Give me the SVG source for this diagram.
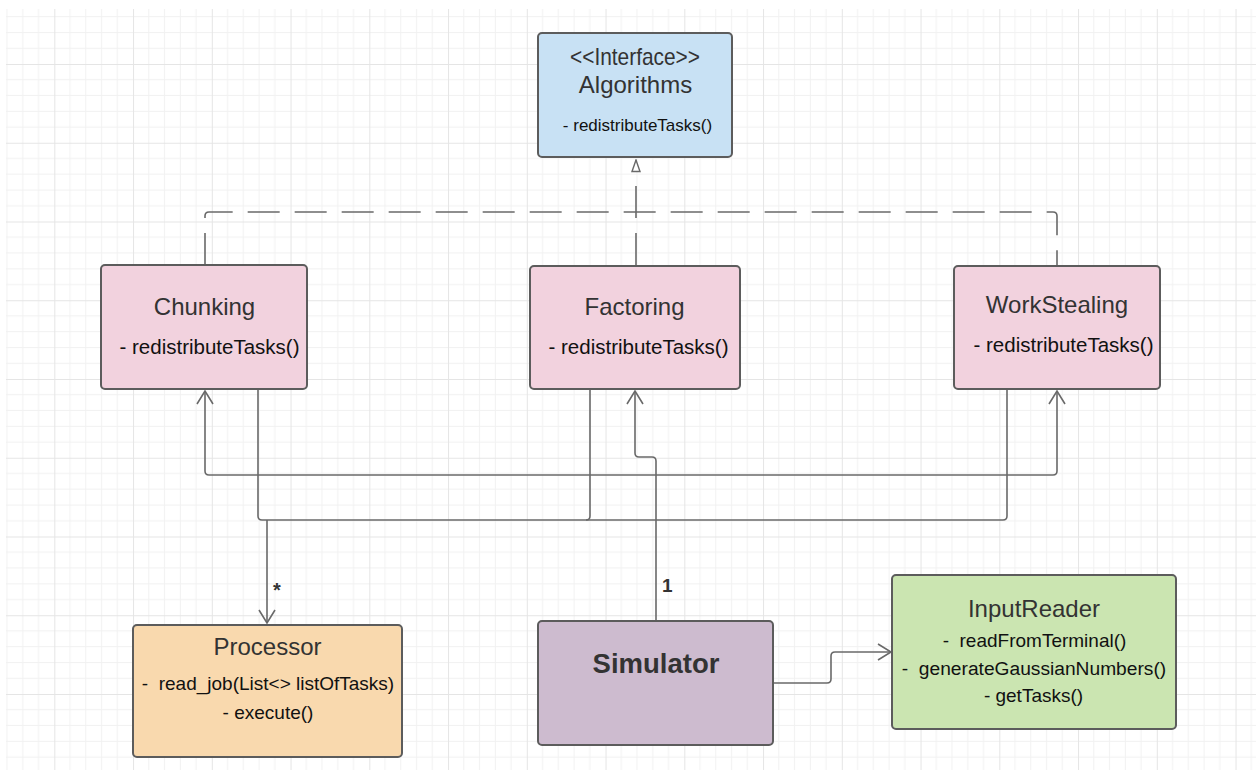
<svg xmlns="http://www.w3.org/2000/svg" width="1256" height="770" viewBox="0 0 1256 770">
  <style>
    .box { stroke: #5c5c5c; stroke-width: 2; }
    .title { font-family: "Liberation Sans", Arial, sans-serif; font-size: 24px; fill: #333333; text-anchor: middle; }
    .m { font-family: "Liberation Sans", Arial, sans-serif; fill: #111111; text-anchor: middle; }
    .conn { fill: none; stroke: #696969; stroke-width: 1.6; }
    .dash { fill: none; stroke: #696969; stroke-width: 1.6; stroke-dasharray: 32 15; }
    .lbl { font-family: "Liberation Sans", Arial, sans-serif; font-weight: bold; fill: #333333; }
  </style>
  <defs>
    <pattern id="grid" patternUnits="userSpaceOnUse" x="54.3" y="64" width="78.75" height="78.75">
      <path d="M15.75,0V78.75M31.5,0V78.75M47.25,0V78.75M63,0V78.75M0,15.75H78.75M0,31.5H78.75M0,47.25H78.75M0,63H78.75" stroke="#f1f1f1" stroke-width="1" fill="none"/>
      <path d="M0.5,0V78.75M0,0.5H78.75" stroke="#e5e5e5" stroke-width="1" fill="none"/>
    </pattern>
    <marker id="open" viewBox="0 0 16 18" markerUnits="userSpaceOnUse" markerWidth="16" markerHeight="18" refX="14" refY="9" orient="auto">
      <path d="M1,1 L14,9 L1,17" fill="none" stroke="#696969" stroke-width="1.6"/>
    </marker>
    <marker id="tri" viewBox="0 0 14 10" markerUnits="userSpaceOnUse" markerWidth="14" markerHeight="10" refX="12.5" refY="5" orient="auto">
      <path d="M1,1 L12.5,5 L1,9 Z" fill="#ffffff" stroke="#696969" stroke-width="1.4"/>
    </marker>
  </defs>
  <rect x="0" y="0" width="1256" height="770" fill="#ffffff"/>
  <rect x="6" y="9" width="1250" height="761" fill="url(#grid)"/>

  <g id="connectors">
    <path class="dash" d="M636,265 V160" marker-end="url(#tri)"/>
    <path class="dash" d="M205,265 V216 Q205,212 209,212 H1053 Q1057,212 1057,216 V265"/>
    <path class="conn" d="M258,389 V516 Q258,520 262,520 H1003 Q1007,520 1007,516 V389"/>
    <path class="conn" d="M590,389 V516 Q590,520 586,520"/>
    <path class="conn" d="M267,520 V623" marker-end="url(#open)"/>
    <path class="conn" d="M656,475 H209 Q205,475 205,471 V391" marker-end="url(#open)"/>
    <path class="conn" d="M656,475 H1053 Q1057,475 1057,471 V391" marker-end="url(#open)"/>
    <path class="conn" d="M656,621 V461 Q656,457 652,457 H639 Q635,457 635,453 V391" marker-end="url(#open)"/>
    <path class="conn" d="M773,683 H827 Q831,683 831,679 V656 Q831,652 835,652 H891" marker-end="url(#open)"/>
    <text class="lbl" x="273" y="597" font-size="20">*</text>
    <text class="lbl" x="662" y="592" font-size="19">1</text>
  </g>

  <g id="algorithms">
    <rect class="box" x="538" y="33" width="194" height="124" rx="4" fill="#c8e1f4"/>
    <text class="title" x="635" y="65" font-size="17" textLength="130" lengthAdjust="spacingAndGlyphs">&lt;&lt;Interface&gt;&gt;</text>
    <text class="title" x="635.5" y="93">Algorithms</text>
    <text class="m" x="637.5" y="131" font-size="17">- redistributeTasks()</text>
  </g>

  <g id="chunking">
    <rect class="box" x="101" y="265" width="206" height="124" rx="4" fill="#f2d2de"/>
    <text class="title" x="204.5" y="315">Chunking</text>
    <text class="m" x="209.5" y="354" font-size="20.5">- redistributeTasks()</text>
  </g>

  <g id="factoring">
    <rect class="box" x="530" y="266" width="210" height="123" rx="4" fill="#f2d2de"/>
    <text class="title" x="634.5" y="315">Factoring</text>
    <text class="m" x="638.5" y="354" font-size="20.5">- redistributeTasks()</text>
  </g>

  <g id="workstealing">
    <rect class="box" x="954" y="266" width="206" height="123" rx="4" fill="#f2d2de"/>
    <text class="title" x="1057" y="313">WorkStealing</text>
    <text class="m" x="1063.5" y="352" font-size="20.5">- redistributeTasks()</text>
  </g>

  <g id="processor">
    <rect class="box" x="133" y="625" width="269" height="132" rx="4" fill="#f9d9ae"/>
    <text class="title" x="267.5" y="655">Processor</text>
    <text class="m" x="268" y="690" font-size="19" xml:space="preserve">-  read_job(List&lt;&gt; listOfTasks)</text>
    <text class="m" x="268" y="719" font-size="19">- execute()</text>
  </g>

  <g id="simulator">
    <rect class="box" x="538" y="621" width="235" height="124" rx="4" fill="#cdbbcf"/>
    <text x="656" y="673" font-family="Liberation Sans, Arial, sans-serif" font-size="27.5" font-weight="bold" fill="#333333" text-anchor="middle">Simulator</text>
  </g>

  <g id="inputreader">
    <rect class="box" x="892" y="575" width="284" height="154" rx="4" fill="#cbe5b1"/>
    <text class="title" x="1034" y="617">InputReader</text>
    <text class="m" x="1034.5" y="647" font-size="19" xml:space="preserve">-  readFromTerminal()</text>
    <text class="m" x="1034" y="675" font-size="19.2" xml:space="preserve">-  generateGaussianNumbers()</text>
    <text class="m" x="1033.5" y="702" font-size="19">- getTasks()</text>
  </g>
</svg>
